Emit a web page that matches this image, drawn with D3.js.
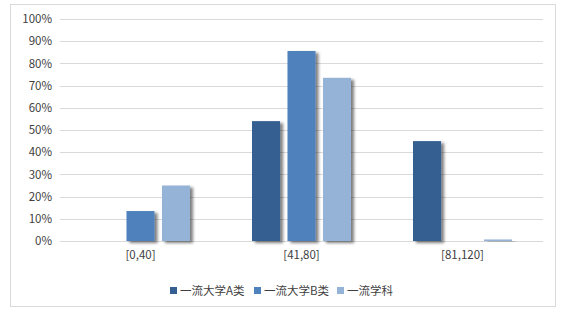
<!DOCTYPE html>
<html><head><meta charset="utf-8">
<script src="https://cdn.jsdelivr.net/npm/d3@7"></script>
<style>body{margin:0;background:#fff;} svg{display:block;}</style>
</head><body>
<script>
const categories = ["[0,40]", "[41,80]", "[81,120]"];
const seriesNames = ["一流大学A类", "一流大学B类", "一流学科"];
const seriesA = [0, 0.54, 0.45];
const seriesB = [0.135, 0.856, 0];
const seriesC = [0.25, 0.735, 0.007];
const yTicks = [0, 0.1, 0.2, 0.3, 0.4, 0.5, 0.6, 0.7, 0.8, 0.9, 1.0];
const colors = ["#355F91", "#4F81BD", "#95B3D7"];

const W = 566, H = 312;
const svg = d3.select("body").append("svg").attr("width", W).attr("height", H);
const font = "'Noto Sans CJK SC', 'Microsoft YaHei', sans-serif";

const defs = svg.append("defs");
const f = defs.append("filter").attr("id", "sh").attr("x", "-20%").attr("y", "-20%").attr("width", "160%").attr("height", "140%");
f.append("feGaussianBlur").attr("in", "SourceAlpha").attr("stdDeviation", 1.5).attr("result", "b");
f.append("feOffset").attr("in", "b").attr("dx", 3).attr("dy", 2).attr("result", "o");
f.append("feComponentTransfer").attr("in", "o").attr("result", "o2").append("feFuncA").attr("type", "linear").attr("slope", 0.5);
const m = f.append("feMerge");
m.append("feMergeNode").attr("in", "o2");
m.append("feMergeNode").attr("in", "SourceGraphic");

svg.append("rect").attr("x", 10.5).attr("y", 4.5).attr("width", 545).attr("height", 302)
  .attr("fill", "#fff").attr("stroke", "#d9d9d9");

const x0 = d3.scaleBand().domain(categories).range([60, 543]);
const y = d3.scaleLinear().domain([0, 1]).range([241, 19]);
const x1 = d3.scaleBand().domain(seriesNames).range([0, 99]).paddingInner(0.21);

const g = svg.append("g");
g.selectAll("line.grid").data(yTicks).join("line")
  .attr("x1", 60).attr("x2", 543)
  .attr("y1", d => Math.round(y(d)) + 0.5).attr("y2", d => Math.round(y(d)) + 0.5)
  .attr("stroke", "#d9d9d9").attr("stroke-width", 1);

const yAxis = d3.axisLeft(y).tickValues(yTicks).tickFormat(d3.format(".0%")).tickSize(0).tickPadding(6);
const ya = svg.append("g").attr("transform", "translate(58,0)").call(yAxis);
ya.select(".domain").remove();
ya.selectAll("text").attr("font-family", font).attr("font-size", 11.5).attr("fill", "#404040");

const xAxis = d3.axisBottom(x0).tickSize(0).tickPadding(10);
const xa = svg.append("g").attr("transform", "translate(0,241)").call(xAxis);
xa.select(".domain").remove();
xa.selectAll("text").attr("font-family", font).attr("font-size", 11.5).attr("fill", "#404040");

const series = [seriesA, seriesB, seriesC];
categories.forEach((c, ci) => {
  const gg = svg.append("g").attr("transform", `translate(${x0(c) + x0.bandwidth() / 2 - 49.5},0)`);
  seriesNames.forEach((s, si) => {
    const v = series[si][ci];
    if (v <= 0) return;
    gg.append("rect").attr("x", x1(s)).attr("width", x1.bandwidth())
      .attr("y", y(v)).attr("height", y(0) - y(v))
      .attr("fill", colors[si]).attr("filter", "url(#sh)");
  });
});

// legend
const legendX = [170, 254, 337];
const lg = svg.append("g");
seriesNames.forEach((s, i) => {
  lg.append("rect").attr("x", legendX[i]).attr("y", 287).attr("width", 7).attr("height", 7).attr("fill", colors[i]);
  lg.append("text").attr("x", legendX[i] + 10).attr("y", 295).text(s)
    .attr("font-family", font).attr("font-size", 11.5).attr("fill", "#404040");
});
</script>
</body></html>
